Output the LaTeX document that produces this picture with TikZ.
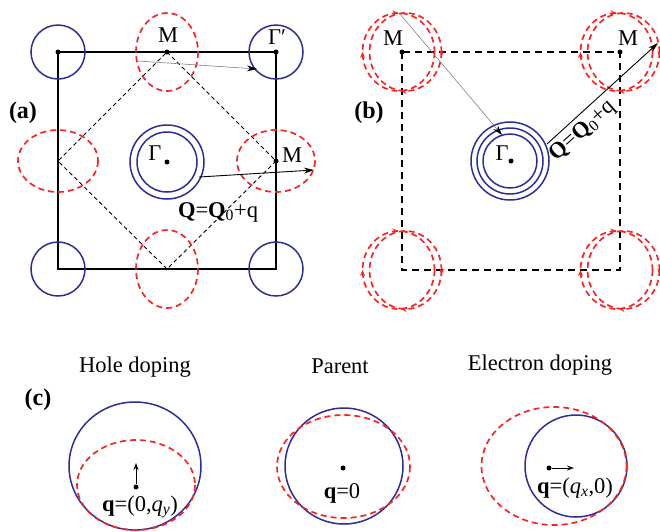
\documentclass[tikz,border=0pt]{standalone}
\usepackage{fontspec}
\setmainfont{Liberation Serif}
\usetikzlibrary{arrows.meta,decorations.markings}

\definecolor{fsblue}{RGB}{45,45,150}
\definecolor{fsred}{RGB}{250,35,35}

\begin{document}
\begin{tikzpicture}[
      x=1pt, y=-1pt,
      lbl/.style={font=\fontsize{22.5}{25}\selectfont,inner sep=0pt},
      tag/.style={font=\fontsize{24}{26}\selectfont\bfseries,inner sep=0pt},
      fs/.style={fsblue,line width=1.5pt},
      fsd/.style={fsred,line width=1.7pt,dash pattern=on 6pt off 4pt},
      pt/.style={circle,fill=black,inner sep=0pt,minimum size=5pt},
      arr/.style={-{Stealth[length=10pt,width=6pt]},line width=0.9pt},
      sarr/.style={-{Stealth[length=7pt,width=5pt]},line width=1pt},
      garr/.style={gray,line width=0.6pt,-{Stealth[length=10pt,width=6pt,color=black]}},
      loopl/.style={fsd,postaction={decorate},decoration={markings,
          mark=at position 0.5 with {\arrow{Stealth[length=6pt,width=5pt]}},
          mark=at position 0.75 with {\arrow{Stealth[length=6pt,width=5pt]}}}},
      loopr/.style={fsd,postaction={decorate},decoration={markings,
          mark=at position 0.02 with {\arrow{Stealth[length=6pt,width=5pt]}},
          mark=at position 0.27 with {\arrow{Stealth[length=6pt,width=5pt]}}}},
    ]
    \useasboundingbox (0,0) rectangle (660,531);

    % (a) two-Fe zone
    \draw[line width=2pt] (58,52) rectangle (276,269);
    \draw[line width=0.9pt,dash pattern=on 4pt off 3pt] (167,52) -- (276,161) -- (167,269) -- (58,161) -- cycle;
    \foreach \p in {(58,52),(276,52),(276,269),(58,269)} {
      \draw[fs] \p circle[radius=27];
    }
    \draw[fsd] (167,52) ellipse[x radius=31,y radius=39];
    \draw[fsd] (167,269) ellipse[x radius=31,y radius=39];
    \draw[fsd] (58,161) ellipse[x radius=40,y radius=31];
    \draw[fsd] (276,161) ellipse[x radius=39,y radius=31];
    \draw[fs] (167,162) circle[radius=37] (167,162) circle[radius=30];

    \node[pt] (Ga) at (167,162) {};
    \node[pt] (Xa) at (58,52) {};
    \node[pt] (Ma) at (167,52) {};
    \node[pt] (Gpa) at (276,52) {};
    \node[pt] (Mra) at (276,161) {};
    \node[lbl] at (155,153) {Γ};
    \node[lbl] at (168,35) {M};
    \node[lbl] at (277,37) {Γ′};
    \node[lbl] at (292,155) {M};
    \node[tag] at (23,113) {(a)};

    \coordinate (ga0) at (138,61);
    \coordinate (ga1) at (257,69);
    \draw[garr] (ga0) -- (ga1);
    \coordinate (qa0) at (199,177);
    \coordinate (qa1) at (314,170);
    \draw[arr] (qa0) -- (qa1);
    \node[lbl] at (218,212) {\textbf{Q}=\textbf{Q}\textsubscript{0}+q};

    % (b) one-Fe zone
    \draw[line width=2pt,dash pattern=on 7pt off 5pt] (402,52) rectangle (620,270);
    \foreach \p in {(402,52),(620,52),(620,270),(402,270)} {
      \draw[loopl] \p ++(-3.5,0) ellipse[x radius=36,y radius=39];
      \draw[loopr] \p ++(3.5,0) ellipse[x radius=36,y radius=39];
    }
    \draw[fs] (510,161) circle[radius=39] (510,161) circle[radius=33] (510,161) circle[radius=27];

    \node[pt] (Gb) at (511,161) {};
    \node[pt] (Mb) at (402,52) {};
    \node[pt] (Mrb) at (620,52) {};
    \node[lbl] at (502,153) {Γ};
    \node[lbl] at (393,38) {M};
    \node[lbl] at (628,38) {M};
    \node[tag] at (369,113) {(b)};

    \coordinate (gb0) at (400,14);
    \coordinate (gb1) at (502,135);
    \draw[garr] (gb0) -- (gb1);
    \coordinate (qb0) at (547,144);
    \coordinate (qb1) at (658,43);
    \draw[arr] (qb0) -- (qb1);
    \node[lbl,rotate=42] at (583,131) {\textbf{Q}=\textbf{Q}\textsubscript{0}+q};

    % (c) doping
    \node[tag] at (38,400) {(c)};
    \node[lbl] at (135,367) {Hole doping};
    \node[lbl] at (340,366) {Parent};
    \node[lbl] at (540,365) {Electron doping};

    \draw[fs] (135,466) ellipse[x radius=66,y radius=64];
    \draw[fsd] (136,485) ellipse[x radius=59,y radius=45];
    \node[pt] (qh) at (136,487) {};
    \coordinate (qh1) at (136,463);
    \draw[sarr] (qh) -- (qh1);
    \node[lbl] at (140,507) {\textbf{q}=(0,\textit{q}\textsubscript{\textit{y}})};

    \draw[fs] (344,466) ellipse[x radius=59,y radius=58];
    \draw[fsd] (343.5,466.5) ellipse[x radius=66.5,y radius=51.5];
    \node[pt] (qp) at (343,468) {};
    \node[lbl] at (342,493) {\textbf{q}=0};

    \draw[fs] (576,466) circle[radius=51];
    \draw[fsd] (554,466) ellipse[x radius=72.5,y radius=59];
    \node[pt] (qe) at (549,468) {};
    \coordinate (qe1) at (574,468);
    \draw[sarr] (qe) -- (qe1);
    \node[lbl] at (575,488) {\textbf{q}=(\textit{q}\textsubscript{\textit{x}},0)};
  \end{tikzpicture}
\end{document}
